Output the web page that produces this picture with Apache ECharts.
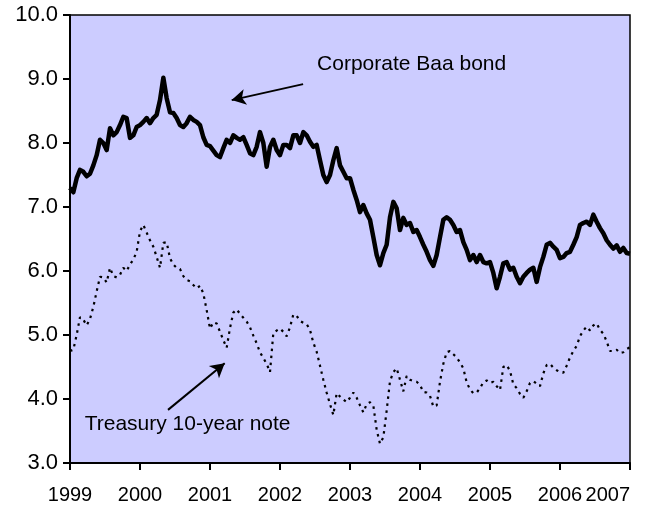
<!DOCTYPE html>
<html>
<head>
<meta charset="utf-8">
<script src="https://cdn.jsdelivr.net/npm/echarts@6/dist/echarts.min.js"></script>
<style>
  html, body { margin: 0; padding: 0; background: #fff; }
  #chart { width: 658px; height: 513px; }
</style>
</head>
<body>
<div id="chart"></div>
<script>
const startYear = 1999;
const perYear = 21;
const years = ["1999", "2000", "2001", "2002", "2003", "2004", "2005", "2006", "2007"];

const baa = [
  7.30, 7.23, 7.45, 7.58, 7.55, 7.48, 7.52, 7.65, 7.81, 8.05, 8.00, 7.89, 8.23, 8.12, 8.17, 8.28, 8.41, 8.39, 8.08, 8.12, 8.25,
  8.28, 8.33, 8.39, 8.31, 8.39, 8.44, 8.67, 9.02, 8.70, 8.48, 8.47, 8.39, 8.28, 8.25, 8.31, 8.41, 8.36, 8.33, 8.28, 8.09, 7.97,
  7.95, 7.88, 7.81, 7.78, 7.92, 8.05, 8.00, 8.12, 8.08, 8.05, 8.09, 7.97, 7.84, 7.81, 7.94, 8.17, 8.00, 7.63, 7.94, 8.05, 7.89,
  7.81, 7.97, 7.97, 7.92, 8.12, 8.12, 8.00, 8.17, 8.12, 8.02, 7.94, 7.97, 7.73, 7.50, 7.39, 7.50, 7.73, 7.92, 7.65, 7.55, 7.45,
  7.45, 7.27, 7.11, 6.92, 7.03, 6.90, 6.80, 6.53, 6.25, 6.09, 6.28, 6.41, 6.84, 7.08, 6.98, 6.64, 6.83, 6.72, 6.75, 6.61, 6.64,
  6.53, 6.41, 6.30, 6.17, 6.08, 6.25, 6.53, 6.80, 6.84, 6.80, 6.72, 6.61, 6.64, 6.45, 6.33, 6.17, 6.25, 6.14, 6.25, 6.14, 6.12,
  6.14, 5.97, 5.73, 5.91, 6.12, 6.14, 6.02, 6.05, 5.91, 5.81, 5.91, 5.97, 6.02, 6.05, 5.83, 6.06, 6.22, 6.41, 6.44, 6.38, 6.33,
  6.20, 6.22, 6.28, 6.30, 6.41, 6.53, 6.72, 6.75, 6.77, 6.72, 6.88, 6.77, 6.67, 6.59, 6.48, 6.41, 6.35, 6.40, 6.30, 6.36, 6.28,
  6.27
];

const treasury = [
  4.75, 4.77, 5.00, 5.28, 5.24, 5.15, 5.25, 5.44, 5.68, 5.91, 5.90, 5.82, 6.05, 5.92, 5.90, 5.94, 6.05, 6.00, 6.10, 6.18, 6.30,
  6.62, 6.72, 6.60, 6.48, 6.38, 6.22, 6.05, 6.44, 6.45, 6.20, 6.10, 6.05, 6.03, 5.92, 5.86, 5.84, 5.78, 5.73, 5.77, 5.65, 5.39,
  5.10, 5.20, 5.18, 5.05, 4.92, 4.80, 5.11, 5.35, 5.40, 5.33, 5.27, 5.21, 5.12, 4.99, 4.87, 4.73, 4.64, 4.55, 4.42, 5.03, 5.07,
  5.10, 5.05, 4.98, 5.12, 5.32, 5.30, 5.22, 5.19, 5.17, 5.08, 4.88, 4.74, 4.52, 4.30, 4.10, 3.92, 3.75, 4.09, 4.04, 3.99, 3.95,
  4.02, 4.10, 4.02, 3.90, 3.79, 3.92, 3.95, 3.90, 3.52, 3.30, 3.40, 3.82, 4.28, 4.42, 4.48, 4.30, 4.12, 4.36, 4.30, 4.28, 4.27,
  4.22, 4.11, 4.10, 4.05, 3.88, 3.90, 4.27, 4.55, 4.73, 4.75, 4.70, 4.65, 4.57, 4.48, 4.26, 4.15, 4.09, 4.10, 4.17, 4.26, 4.29,
  4.25, 4.27, 4.20, 4.14, 4.50, 4.53, 4.44, 4.23, 4.17, 4.08, 4.02, 4.12, 4.25, 4.28, 4.24, 4.20, 4.40, 4.53, 4.55, 4.49, 4.45,
  4.42, 4.41, 4.52, 4.65, 4.75, 4.83, 4.98, 5.07, 5.13, 5.07, 5.15, 5.18, 5.08, 5.02, 4.90, 4.75, 4.75, 4.77, 4.72, 4.73, 4.78,
  4.81
];

// annotation anchors in data units [year, value]
const baaLabel = [2002.53, 9.23];
const baaArrow = [[2002.33, 8.92], [2001.31, 8.67]];
const tsyLabel = [1999.21, 3.61];
const tsyArrow = [[2000.40, 3.83], [2001.21, 4.56]];

const fontFamily = "'Liberation Sans', Arial, sans-serif";

function toPoints(values) {
  return values.map((v, i) => [startYear + i / perYear, v]);
}

function arrow(from, to) {
  return [{ coord: from }, { coord: to }];
}

function note(coord, text) {
  return {
    coord: coord,
    symbol: "rect",
    symbolSize: 0,
    label: {
      show: true,
      position: "right",
      distance: 0,
      formatter: text,
      color: "#000",
      fontSize: 21,
      fontFamily: fontFamily,
    },
  };
}

const myChart = echarts.init(document.getElementById("chart"));

const option = {
  animation: false,
  backgroundColor: "#fff",
  grid: {
    left: 70,
    right: 28,
    top: 15,
    bottom: 50,
    show: true,
    backgroundColor: "#CCCCFF",
    borderColor: "#000",
    borderWidth: 1.5,
  },
  xAxis: {
    type: "value",
    min: 1999,
    max: 2007,
    interval: 1,
    axisLine: { show: true, lineStyle: { color: "#000", width: 2 } },
    axisTick: { show: true, inside: false, length: 7, lineStyle: { color: "#000", width: 2 } },
    axisLabel: {
      margin: 22,
      color: "#000",
      fontSize: 20,
      fontFamily: fontFamily,
      showMinLabel: true,
      showMaxLabel: true,
      hideOverlap: false,
      alignMaxLabel: "right",
      formatter: (v) => years[Math.round(v - startYear)],
    },
    splitLine: { show: false },
  },
  yAxis: {
    type: "value",
    min: 3,
    max: 10,
    interval: 1,
    axisLine: { show: true, lineStyle: { color: "#000", width: 2 } },
    axisTick: { show: true, inside: false, length: 7, lineStyle: { color: "#000", width: 2 } },
    axisLabel: {
      margin: 12,
      color: "#000",
      fontSize: 22,
      fontFamily: fontFamily,
      showMinLabel: true,
      showMaxLabel: true,
      formatter: (v) => v.toFixed(1),
    },
    splitLine: { show: false },
  },
  series: [
    {
      name: "Corporate Baa bond",
      type: "line",
      showSymbol: false,
      lineStyle: { color: "#000", width: 4.5, join: "round" },
      data: toPoints(baa),
      markLine: {
        silent: true,
        symbol: ["none", "arrow"],
        symbolSize: [12, 14],
        label: { show: false },
        lineStyle: { color: "#000", width: 2, type: "solid" },
        data: [arrow(baaArrow[0], baaArrow[1])],
      },
      markPoint: { silent: true, data: [note(baaLabel, "Corporate Baa bond")] },
    },
    {
      name: "Treasury 10-year note",
      type: "line",
      showSymbol: false,
      lineStyle: { color: "#000", width: 2.2, type: [2.5, 4.5] },
      data: toPoints(treasury),
      markLine: {
        silent: true,
        symbol: ["none", "arrow"],
        symbolSize: [12, 14],
        label: { show: false },
        lineStyle: { color: "#000", width: 2, type: "solid" },
        data: [arrow(tsyArrow[0], tsyArrow[1])],
      },
      markPoint: { silent: true, data: [note(tsyLabel, "Treasury 10-year note")] },
    },
  ],
};

myChart.setOption(option);
</script>
</body>
</html>
